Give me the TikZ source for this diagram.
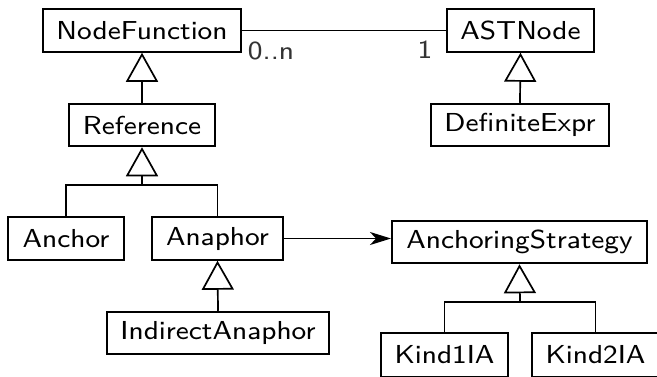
\documentclass[tikz,border=0pt]{standalone}
\usepackage{graphicx}
\usetikzlibrary{arrows.meta}
\newcommand\mylbl[1]{\scalebox{3.45}[3.25]{\fontsize{8}{10}\selectfont\sffamily #1}}
\begin{document}
\begin{tikzpicture}[x=1pt,y=-1pt,
  cls/.style={draw, line width=2pt, inner sep=0pt, minimum height=42.5pt},
  conn/.style={line width=1.7pt},
  gen/.style={conn, -{Triangle[open,length=29pt,width=32pt,line width=1.7pt]}},
  assoc/.style={conn, -{Stealth[length=21pt,width=13pt,inset=6pt]}},
  mult/.style={text=black!80, inner sep=0pt}]
\useasboundingbox (0,0) rectangle (657,376);
\clip (0,0) rectangle (657,376);
\node[cls, minimum width=198pt] (NF) at (142,30.5) {\mylbl{NodeFunction}};
\node[cls, minimum width=147pt] (AST) at (520.5,30.5) {\mylbl{ASTNode}};
\node[cls, minimum width=146pt] (Ref) at (142,125) {\mylbl{Reference}};
\node[cls, minimum width=178pt] (DE) at (520,125) {\mylbl{DefiniteExpr}};
\node[cls, minimum width=116pt] (Anc) at (66,238.5) {\mylbl{Anchor}};
\node[cls, minimum width=131pt] (Ana) at (217.5,238.5) {\mylbl{Anaphor}};
\node[cls, minimum width=222pt] (IA) at (218,333) {\mylbl{IndirectAnaphor}};
\node[cls, minimum width=255pt] (AS) at (519.5,242) {\mylbl{AnchoringStrategy}};
\node[cls, minimum width=127pt, minimum height=44pt] (K1) at (444.5,355) {\mylbl{Kind1IA}};
\node[cls, minimum width=127pt, minimum height=44pt] (K2) at (595.5,355) {\mylbl{Kind2IA}};
\node[mult] (m0) at (271,51) {\mylbl{0..n}};
\node[mult] (m1) at (425,50) {\mylbl{1}};
\coordinate (j1) at (142,185);
\coordinate (j2) at (520,302);
\draw[conn] (NF.east) -- (AST.west);
\draw[gen] (Ref.north) -- (NF.south);
\draw[gen] (DE.north) -- (AST.south);
\draw[conn] (Anc.north) |- (j1) -| (Ana.north);
\draw[gen] (j1) -- (Ref.south);
\draw[gen] (IA.north) -- (Ana.south);
\draw[conn] (K1.north) |- (j2) -| (K2.north);
\draw[gen] (j2) -- (AS.south);
\draw[assoc] (Ana.east) -- (Ana.east -| AS.west);
\end{tikzpicture}
\end{document}
